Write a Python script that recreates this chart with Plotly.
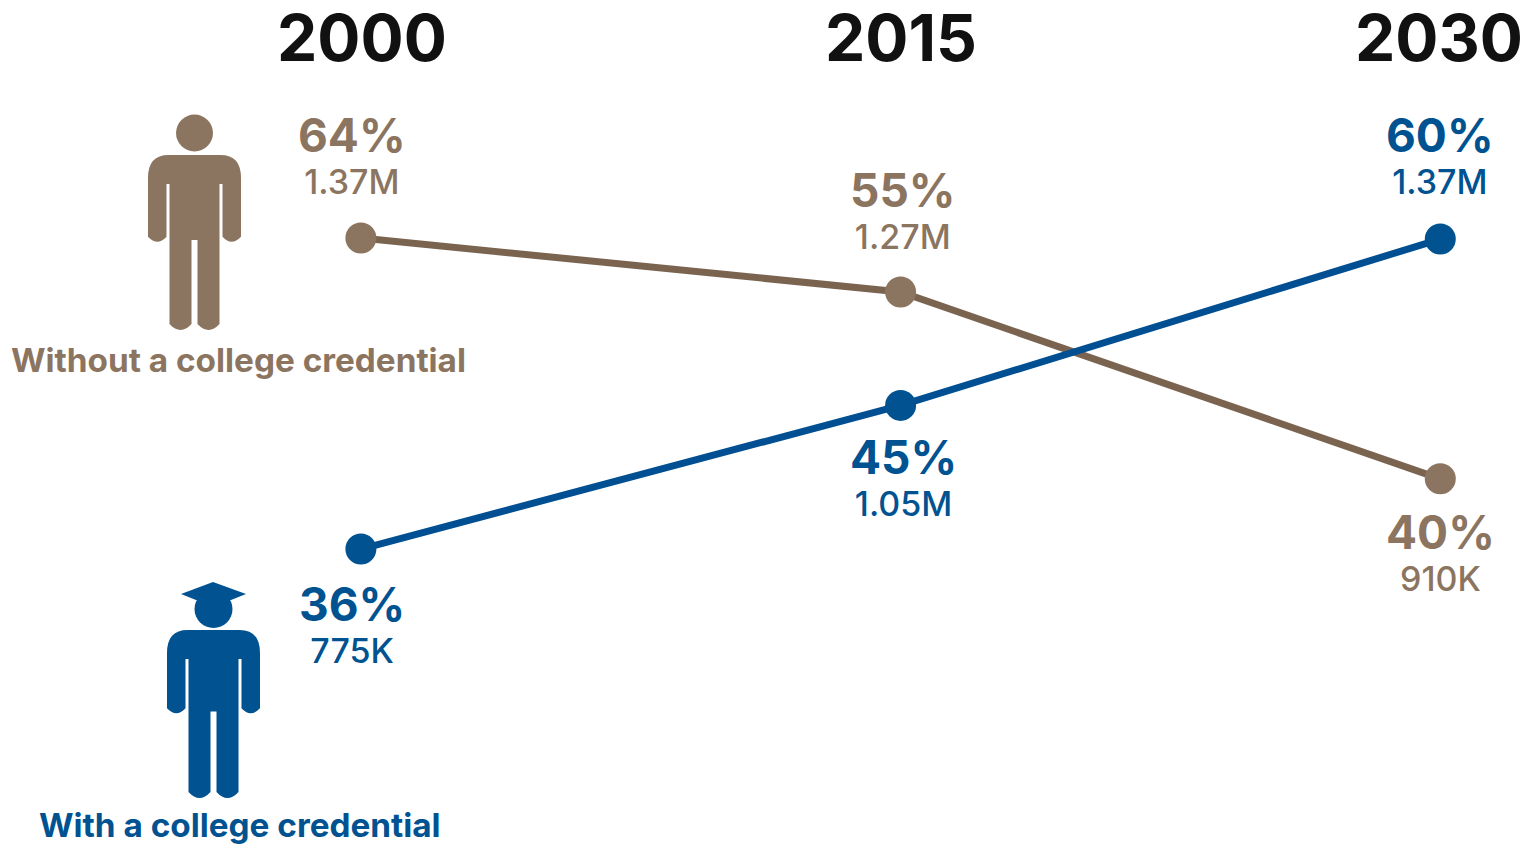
import plotly.graph_objects as go

W, H = 1533, 844

years = [2000, 2015, 2030]
year_labels = ["2000", "2015", "2030"]
without_levels = [1370, 1270, 924]
with_levels = [794, 1060, 1368]
without_pct = ["64%", "55%", "40%"]
without_cnt = ["1.37M", "1.27M", "910K"]
with_pct = ["36%", "45%", "60%"]
with_cnt = ["775K", "1.05M", "1.37M"]
without_name = "Without a college credential"
with_name = "With a college credential"

BROWN, BROWN_LINE = "#8c7560", "#7a6450"
BLUE, BLUE_LINE = "#005290", "#004f93"
FONT = "Inter"


def px(x):
    return x / W


def py(y):
    return 1 - y / H


fig = go.Figure()
for name, ys, line, dot in [
    (without_name, without_levels, BROWN_LINE, BROWN),
    (with_name, with_levels, BLUE_LINE, BLUE),
]:
    fig.add_trace(go.Scatter(
        x=years, y=ys, name=name, mode="lines+markers",
        line=dict(color=line, width=7),
        marker=dict(color=dot, size=31, line=dict(width=0)),
        showlegend=False, hoverinfo="skip", cliponaxis=False,
    ))


def label(x, y, text, size, color, weight=700):
    fig.add_annotation(
        x=px(x), y=py(y), xref="paper", yref="paper", text=text, showarrow=False,
        xanchor="center", yanchor="middle",
        font=dict(family=FONT, size=size, color=color, weight=weight),
    )


def pair(x, y, pct, cnt, color):
    label(x, y,
          f'<span style="font-size:46px;font-weight:700">{pct}</span><br>'
          f'<span style="font-size:34px">{cnt}</span>',
          32.5, color, 500)


for x, t in zip([362, 901, 1439], year_labels):
    label(x, 38, t, 64, "#111111", 700)

pair(352, 155, without_pct[0], without_cnt[0], BROWN)
pair(903, 210, without_pct[1], without_cnt[1], BROWN)
pair(1440, 551, without_pct[2], without_cnt[2], BROWN)
pair(352, 623, with_pct[0], with_cnt[0], BLUE)
pair(903, 476, with_pct[1], with_cnt[1], BLUE)
pair(1440, 155, with_pct[2], with_cnt[2], BLUE)
label(238, 360, without_name, 33.3, BROWN)
label(240, 825, with_name, 33.3, BLUE)


def person(cx, top, bottom, color):
    h = bottom - top
    armb = top + h * 0.49
    gap = top + h * 0.48
    p = lambda x, y: f"{px(cx + x):.5f},{py(y):.5f}"
    path = (
        f"M{p(-26, top)} L{p(26, top)} Q{p(46.5, top)} {p(46.5, top + 23)} "
        f"L{p(46.5, armb - 5)} Q{p(37, armb + 5)} {p(28, armb - 5)} L{p(28, top + 29)} L{p(25, top + 29)} "
        f"L{p(25, bottom - 8)} Q{p(14, bottom + 4)} {p(3, bottom - 8)} L{p(3, gap)} L{p(-3, gap)} "
        f"L{p(-3, bottom - 8)} Q{p(-14, bottom + 4)} {p(-25, bottom - 8)} L{p(-25, top + 29)} L{p(-28, top + 29)} "
        f"L{p(-28, armb - 5)} Q{p(-37, armb + 5)} {p(-46.5, armb - 5)} L{p(-46.5, top + 23)} "
        f"Q{p(-46.5, top)} {p(-26, top)} Z"
    )
    fig.add_shape(type="path", path=path, xref="paper", yref="paper",
                  fillcolor=color, line=dict(width=0), layer="above")


def head(cx, cy, r, color):
    fig.add_shape(type="circle", xref="paper", yref="paper",
                  x0=px(cx - r), x1=px(cx + r), y0=py(cy + r), y1=py(cy - r),
                  fillcolor=color, line=dict(width=0), layer="above")


person(194.5, 155, 332, BROWN)
head(194.5, 133, 18.5, BROWN)
person(213.5, 630, 800, BLUE)
head(213.5, 609, 19, BLUE)
cap = (f"M{px(181):.5f},{py(594):.5f} L{px(213):.5f},{py(582):.5f} L{px(246):.5f},{py(594):.5f} "
       f"L{px(231):.5f},{py(600):.5f} L{px(196):.5f},{py(600):.5f} Z")
fig.add_shape(type="path", path=cap, xref="paper", yref="paper",
              fillcolor=BLUE, line=dict(width=0), layer="above")

fig.update_layout(
    width=W, height=H, margin=dict(l=0, r=0, t=0, b=0),
    paper_bgcolor="white", plot_bgcolor="white", showlegend=False,
    xaxis=dict(range=[1989.97, 1989.97 + W / 35.98], visible=False, fixedrange=True),
    yaxis=dict(range=[1810.7 - H / 0.54, 1810.7], visible=False, fixedrange=True),
)
fig.write_html("out.html", config=dict(displayModeBar=False),
               post_script="document.body.style.margin='0';")
